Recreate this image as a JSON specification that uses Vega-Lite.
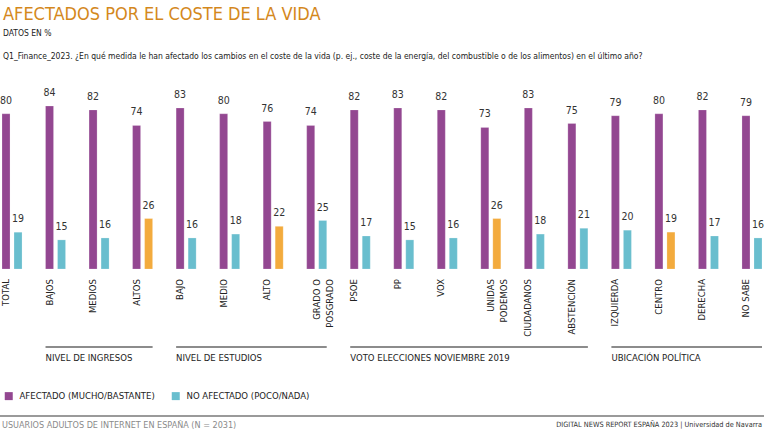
{
  "$schema": "https://vega.github.io/schema/vega-lite/v6.json",
  "width": 764,
  "height": 194,
  "autosize": {"type": "none"},
  "padding": {"left": 0, "top": 75, "right": 4, "bottom": 170},
  "background": "white",
  "config": {
    "font": "Liberation Sans Narrow, DejaVu Sans Condensed, sans-serif",
    "view": {"stroke": null},
    "axis": {"disable": true}
  },
  "title": {
    "text": "AFECTADOS POR EL COSTE DE LA VIDA",
    "subtitle": ["DATOS EN %", "Q1_Finance_2023. ¿En qué medida le han afectado los cambios en el coste de la vida (p. ej., coste de la energía, del combustible o de los alimentos) en el último año?"],
    "anchor": "start",
    "frame": "group",
    "orient": "top",
    "fontSize": 18,
    "fontWeight": "normal",
    "color": "#d4881c",
    "subtitleFontSize": 8.5,
    "subtitleColor": "#222222",
    "subtitleLineHeight": 23,
    "subtitlePadding": 5,
    "offset": 15,
    "dx": 3
  },
  "datasets": {
    "barras": [
      {"grupo": "TOTAL", "serie": "AFECTADO (MUCHO/BASTANTE)", "valor": 80, "destacado": false},
      {"grupo": "TOTAL", "serie": "NO AFECTADO (POCO/NADA)", "valor": 19, "destacado": false},
      {"grupo": "BAJOS", "serie": "AFECTADO (MUCHO/BASTANTE)", "valor": 84, "destacado": false},
      {"grupo": "BAJOS", "serie": "NO AFECTADO (POCO/NADA)", "valor": 15, "destacado": false},
      {"grupo": "MEDIOS", "serie": "AFECTADO (MUCHO/BASTANTE)", "valor": 82, "destacado": false},
      {"grupo": "MEDIOS", "serie": "NO AFECTADO (POCO/NADA)", "valor": 16, "destacado": false},
      {"grupo": "ALTOS", "serie": "AFECTADO (MUCHO/BASTANTE)", "valor": 74, "destacado": false},
      {"grupo": "ALTOS", "serie": "NO AFECTADO (POCO/NADA)", "valor": 26, "destacado": true},
      {"grupo": "BAJO", "serie": "AFECTADO (MUCHO/BASTANTE)", "valor": 83, "destacado": false},
      {"grupo": "BAJO", "serie": "NO AFECTADO (POCO/NADA)", "valor": 16, "destacado": false},
      {"grupo": "MEDIO", "serie": "AFECTADO (MUCHO/BASTANTE)", "valor": 80, "destacado": false},
      {"grupo": "MEDIO", "serie": "NO AFECTADO (POCO/NADA)", "valor": 18, "destacado": false},
      {"grupo": "ALTO", "serie": "AFECTADO (MUCHO/BASTANTE)", "valor": 76, "destacado": false},
      {"grupo": "ALTO", "serie": "NO AFECTADO (POCO/NADA)", "valor": 22, "destacado": true},
      {"grupo": "GRADO O|POSGRADO", "serie": "AFECTADO (MUCHO/BASTANTE)", "valor": 74, "destacado": false},
      {"grupo": "GRADO O|POSGRADO", "serie": "NO AFECTADO (POCO/NADA)", "valor": 25, "destacado": false},
      {"grupo": "PSOE", "serie": "AFECTADO (MUCHO/BASTANTE)", "valor": 82, "destacado": false},
      {"grupo": "PSOE", "serie": "NO AFECTADO (POCO/NADA)", "valor": 17, "destacado": false},
      {"grupo": "PP", "serie": "AFECTADO (MUCHO/BASTANTE)", "valor": 83, "destacado": false},
      {"grupo": "PP", "serie": "NO AFECTADO (POCO/NADA)", "valor": 15, "destacado": false},
      {"grupo": "VOX", "serie": "AFECTADO (MUCHO/BASTANTE)", "valor": 82, "destacado": false},
      {"grupo": "VOX", "serie": "NO AFECTADO (POCO/NADA)", "valor": 16, "destacado": false},
      {"grupo": "UNIDAS|PODEMOS", "serie": "AFECTADO (MUCHO/BASTANTE)", "valor": 73, "destacado": false},
      {"grupo": "UNIDAS|PODEMOS", "serie": "NO AFECTADO (POCO/NADA)", "valor": 26, "destacado": true},
      {"grupo": "CIUDADANOS", "serie": "AFECTADO (MUCHO/BASTANTE)", "valor": 83, "destacado": false},
      {"grupo": "CIUDADANOS", "serie": "NO AFECTADO (POCO/NADA)", "valor": 18, "destacado": false},
      {"grupo": "ABSTENCIÓN", "serie": "AFECTADO (MUCHO/BASTANTE)", "valor": 75, "destacado": false},
      {"grupo": "ABSTENCIÓN", "serie": "NO AFECTADO (POCO/NADA)", "valor": 21, "destacado": false},
      {"grupo": "IZQUIERDA", "serie": "AFECTADO (MUCHO/BASTANTE)", "valor": 79, "destacado": false},
      {"grupo": "IZQUIERDA", "serie": "NO AFECTADO (POCO/NADA)", "valor": 20, "destacado": false},
      {"grupo": "CENTRO", "serie": "AFECTADO (MUCHO/BASTANTE)", "valor": 80, "destacado": false},
      {"grupo": "CENTRO", "serie": "NO AFECTADO (POCO/NADA)", "valor": 19, "destacado": true},
      {"grupo": "DERECHA", "serie": "AFECTADO (MUCHO/BASTANTE)", "valor": 82, "destacado": false},
      {"grupo": "DERECHA", "serie": "NO AFECTADO (POCO/NADA)", "valor": 17, "destacado": false},
      {"grupo": "NO SABE", "serie": "AFECTADO (MUCHO/BASTANTE)", "valor": 79, "destacado": false},
      {"grupo": "NO SABE", "serie": "NO AFECTADO (POCO/NADA)", "valor": 16, "destacado": false}
    ],
    "secciones": [
      {"seccion": "NIVEL DE INGRESOS", "desde": "BAJOS", "hasta": "ALTOS"},
      {"seccion": "NIVEL DE ESTUDIOS", "desde": "BAJO", "hasta": "GRADO O|POSGRADO"},
      {"seccion": "VOTO ELECCIONES NOVIEMBRE 2019", "desde": "PSOE", "hasta": "ABSTENCIÓN"},
      {"seccion": "UBICACIÓN POLÍTICA", "desde": "IZQUIERDA", "hasta": "NO SABE"}
    ],
    "pie": [
      {"izquierda": "USUARIOS ADULTOS DE INTERNET EN ESPAÑA (N = 2031)", "derecha": "DIGITAL NEWS REPORT ESPAÑA 2023 | Universidad de Navarra", "primero": "TOTAL", "ultimo": "NO SABE"}
    ]
  },
  "resolve": {"scale": {"color": "independent"}},
  "layer": [
    {
      "data": {"name": "barras"},
      "mark": {"type": "bar", "stroke": "white", "strokeOpacity": 0.35, "strokeWidth": 0.6},
      "encoding": {
        "x": {"field": "grupo", "type": "nominal", "axis": null,
          "scale": {"domain": ["TOTAL", "BAJOS", "MEDIOS", "ALTOS", "BAJO", "MEDIO", "ALTO", "GRADO O|POSGRADO", "PSOE", "PP", "VOX", "UNIDAS|PODEMOS", "CIUDADANOS", "ABSTENCIÓN", "IZQUIERDA", "CENTRO", "DERECHA", "NO SABE"], "paddingInner": 0.54, "paddingOuter": 0.046}},
        "xOffset": {"field": "serie", "type": "nominal", "scale": {"paddingInner": 0.3333, "paddingOuter": 0}},
        "y": {"field": "valor", "type": "quantitative", "axis": null, "scale": {"domain": [0, 100], "nice": false, "zero": true}},
        "color": {
          "condition": {"test": "datum.destacado", "value": "#f3ab3d"},
          "field": "serie", "type": "nominal",
          "scale": {"domain": ["AFECTADO (MUCHO/BASTANTE)", "NO AFECTADO (POCO/NADA)"], "range": ["#934791", "#69bece"]},
          "legend": {
            "title": null, "orient": "none", "direction": "horizontal",
            "legendX": 4, "legendY": 316,
            "symbolType": "square", "symbolSize": 64, "symbolStrokeWidth": 0,
            "labelFontSize": 9.5, "labelColor": "#222222", "labelOffset": 6,
            "columnPadding": 16, "labelLimit": 300
          }
        }
      }
    },
    {
      "data": {"name": "barras"},
      "mark": {"type": "text", "baseline": "alphabetic", "dy": -10, "fontSize": 10.5, "color": "#333333"},
      "encoding": {
        "x": {"field": "grupo", "type": "nominal"},
        "xOffset": {"field": "serie", "type": "nominal"},
        "y": {"field": "valor", "type": "quantitative"},
        "text": {"field": "valor", "type": "quantitative"}
      }
    },
    {
      "data": {"name": "barras"},
      "transform": [
        {"filter": "datum.serie == 'AFECTADO (MUCHO/BASTANTE)' && indexof(datum.grupo, '|') < 0"}
      ],
      "mark": {"type": "text", "angle": 270, "align": "right", "baseline": "middle", "dx": -10, "fontSize": 9.5, "color": "#222222"},
      "encoding": {
        "x": {"field": "grupo", "type": "nominal"},
        "xOffset": {"field": "serie", "type": "nominal"},
        "y": {"datum": 0, "type": "quantitative"},
        "text": {"field": "grupo", "type": "nominal"}
      }
    },
    {
      "data": {"name": "barras"},
      "transform": [
        {"filter": "datum.serie == 'AFECTADO (MUCHO/BASTANTE)' && indexof(datum.grupo, '|') >= 0"}
      ],
      "mark": {"type": "text", "angle": 270, "align": "right", "baseline": "middle", "dx": -10, "fontSize": 9.5, "lineBreak": "|", "lineHeight": 13.5, "color": "#222222"},
      "encoding": {
        "x": {"field": "grupo", "type": "nominal"},
        "y": {"datum": 0, "type": "quantitative"},
        "text": {"field": "grupo", "type": "nominal"}
      }
    },
    {
      "data": {"name": "secciones"},
      "mark": {"type": "rule", "strokeWidth": 2, "color": "#8c8c8c"},
      "encoding": {
        "x": {"field": "desde", "type": "nominal", "bandPosition": 0},
        "x2": {"field": "hasta", "bandPosition": 1},
        "y": {"datum": -40.2, "type": "quantitative"}
      }
    },
    {
      "data": {"name": "secciones"},
      "mark": {"type": "text", "align": "left", "baseline": "middle", "fontSize": 9.5, "color": "#222222"},
      "encoding": {
        "x": {"field": "desde", "type": "nominal", "bandPosition": 0},
        "y": {"datum": -45.9, "type": "quantitative"},
        "text": {"field": "seccion", "type": "nominal"}
      }
    },
    {
      "data": {"name": "pie"},
      "mark": {"type": "rule", "strokeWidth": 2, "color": "#9a9a9a"},
      "encoding": {
        "y": {"datum": -75.8, "type": "quantitative"}
      }
    },
    {
      "data": {"name": "pie"},
      "mark": {"type": "text", "align": "left", "baseline": "middle", "fontSize": 9, "color": "#8a8a8a"},
      "encoding": {
        "x": {"field": "primero", "type": "nominal", "bandPosition": 0},
        "y": {"datum": -80.6, "type": "quantitative"},
        "text": {"field": "izquierda", "type": "nominal"}
      }
    },
    {
      "data": {"name": "pie"},
      "mark": {"type": "text", "align": "right", "baseline": "middle", "fontSize": 7.3, "color": "#333333"},
      "encoding": {
        "x": {"field": "ultimo", "type": "nominal", "bandPosition": 1},
        "y": {"datum": -80.6, "type": "quantitative"},
        "text": {"field": "derecha", "type": "nominal"}
      }
    }
  ]
}
